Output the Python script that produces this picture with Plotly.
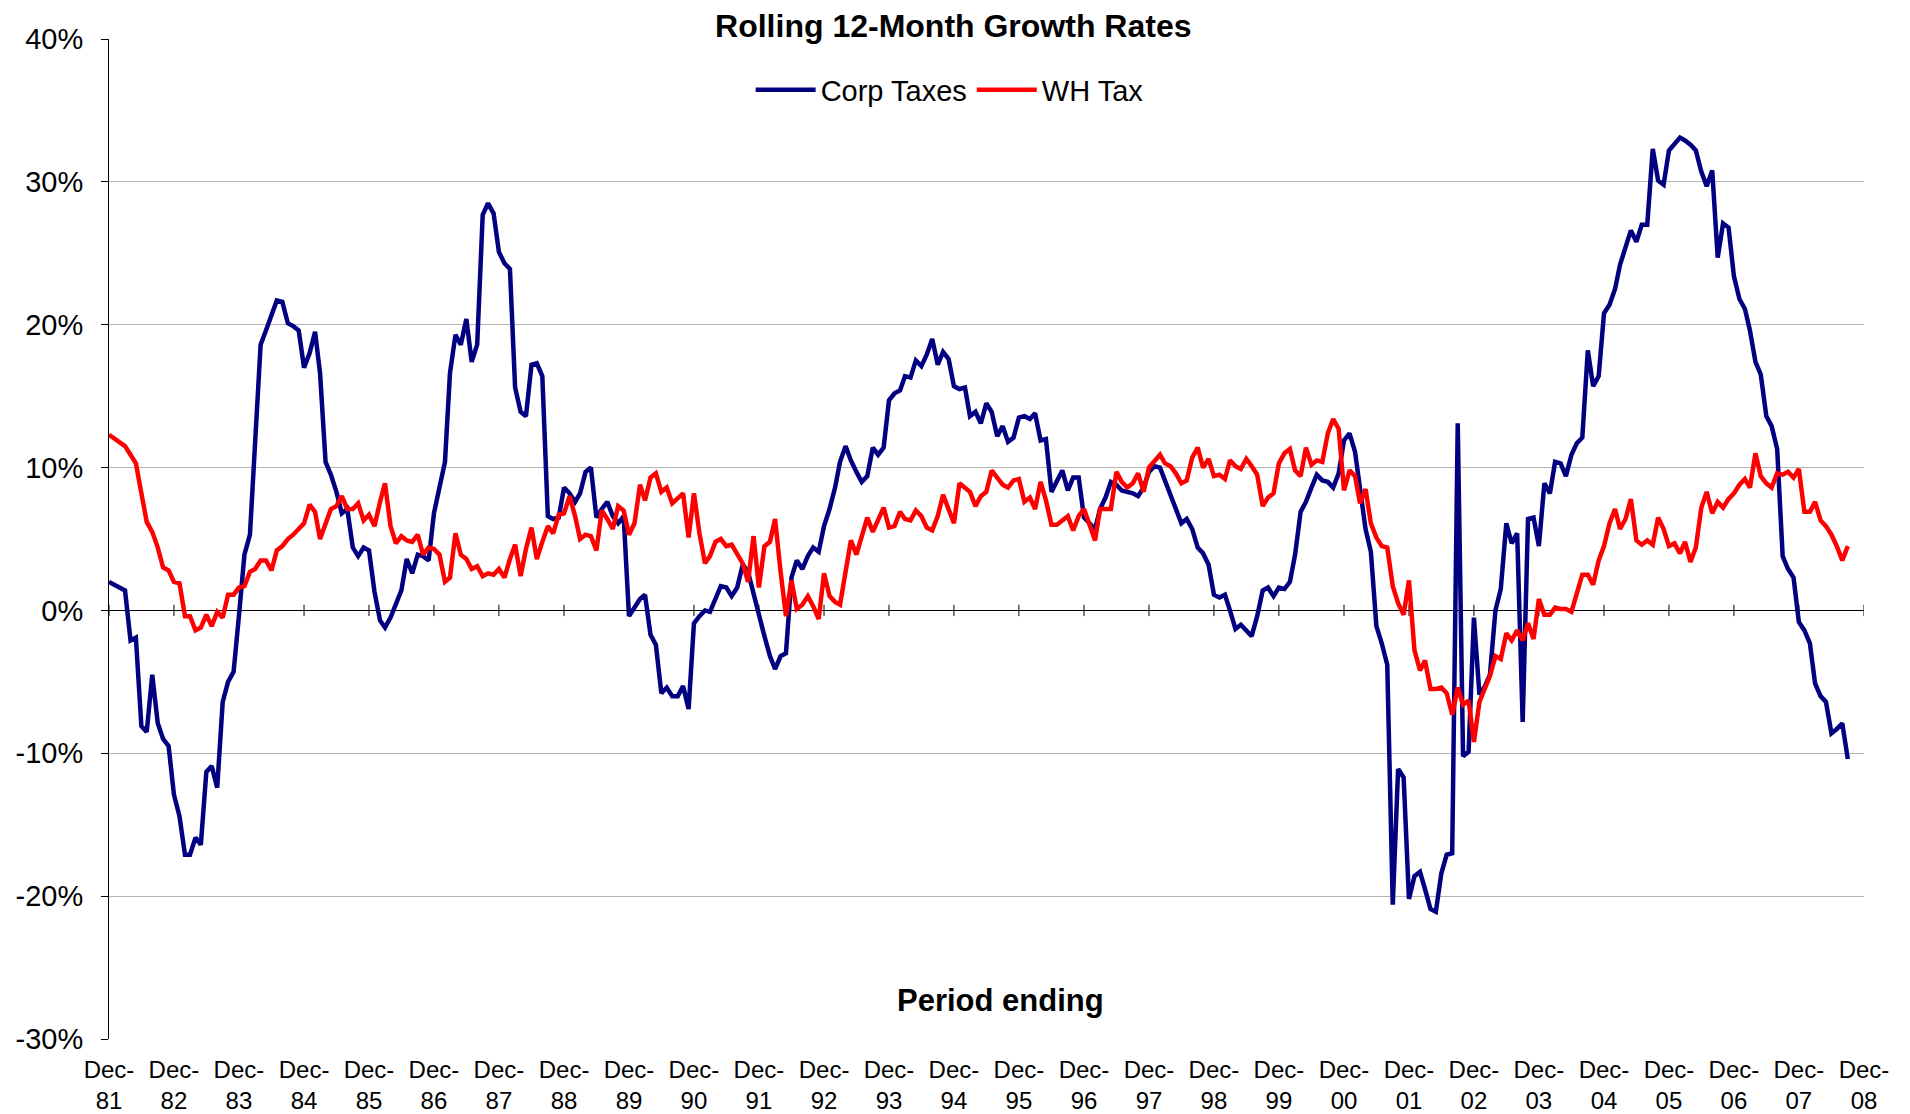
import pandas as pd
import plotly.graph_objects as go

# Monthly data, Dec-1981 .. Sep-2008 (rolling 12-month growth, %)
start_month = "1981-12-01"

corp_taxes = [
    2.0, 1.8, 1.6, 1.4, -2.1, -1.9, -8.1, -8.5, -4.5, -7.9, -9.0, -9.5,
    -12.9, -14.4, -17.1, -17.1, -15.9, -16.4, -11.3, -10.9, -12.4, -6.4, -5.0, -4.3,
    -0.4, 3.9, 5.3, 12.1, 18.6, 19.6, 20.7, 21.7, 21.6, 20.1, 19.9, 19.6,
    17.0, 18.0, 19.5, 16.6, 10.4, 9.5, 8.3, 6.8, 7.1, 4.4, 3.8, 4.4,
    4.2, 1.3, -0.7, -1.2, -0.5, 0.4, 1.4, 3.6, 2.6, 3.9, 3.8, 3.5,
    6.8, 8.6, 10.4, 16.6, 19.3, 18.6, 20.4, 17.4, 18.6, 27.7, 28.5, 27.8,
    25.1, 24.3, 23.9, 15.6, 13.9, 13.6, 17.2, 17.3, 16.4, 6.6, 6.4, 6.5,
    8.6, 8.2, 7.6, 8.2, 9.7, 10.0, 6.5, 7.1, 7.6, 6.6, 6.1, 6.6,
    -0.4, 0.2, 0.8, 1.1, -1.7, -2.4, -5.8, -5.4, -6.0, -6.0, -5.3, -6.9,
    -0.9, -0.4, 0.0, -0.1, 0.8, 1.7, 1.6, 1.0, 1.6, 3.2, 2.7, 1.1,
    -0.2, -1.8, -3.2, -4.1, -3.2, -3.0, 2.3, 3.5, 2.9, 3.8, 4.4, 4.1,
    5.9, 7.1, 8.6, 10.4, 11.5, 10.5, 9.7, 9.0, 9.4, 11.4, 10.9, 11.4,
    14.7, 15.2, 15.4, 16.4, 16.3, 17.5, 17.1, 17.9, 19.0, 17.2, 18.1, 17.6,
    15.7, 15.5, 15.6, 13.6, 13.9, 13.1, 14.5, 13.9, 12.2, 12.9, 11.8, 12.1,
    13.5, 13.6, 13.4, 13.8, 11.9, 12.0, 8.3, 9.0, 9.8, 8.4, 9.3, 9.3,
    6.5, 6.1, 5.7, 7.1, 7.9, 9.0, 8.8, 8.4, 8.3, 8.2, 8.0, 8.6,
    9.7, 10.1, 10.0, 9.1, 8.0, 7.1, 6.1, 6.4, 5.7, 4.4, 4.0, 3.2,
    1.1, 0.9, 1.1, 0.0, -1.3, -1.0, -1.4, -1.8, -0.4, 1.4, 1.6, 1.0,
    1.6, 1.5, 2.0, 3.9, 6.9, 7.6, 8.6, 9.5, 9.1, 9.0, 8.6, 9.6,
    11.9, 12.4, 11.1, 8.6, 5.7, 4.1, -1.1, -2.3, -3.8, -20.6, -11.1, -11.7,
    -20.2, -18.6, -18.3, -19.5, -20.9, -21.1, -18.4, -17.1, -17.0, 13.1, -10.2, -9.9,
    -0.5, -5.9, -5.3, -4.5, 0.0, 1.5, 6.1, 4.7, 5.4, -7.8, 6.4, 6.5,
    4.5, 8.9, 8.2, 10.4, 10.3, 9.4, 10.9, 11.7, 12.1, 18.2, 15.7, 16.4,
    20.8, 21.4, 22.5, 24.2, 25.4, 26.6, 25.8, 27.0, 27.0, 32.3, 30.1, 29.8,
    32.2, 32.7, 33.1, 32.9, 32.6, 32.2, 30.7, 29.7, 30.8, 24.7, 27.1, 26.8,
    23.4, 21.8, 21.1, 19.6, 17.4, 16.5, 13.6, 12.9, 11.3, 3.8, 2.9, 2.3,
    -0.8, -1.4, -2.3, -5.1, -6.0, -6.4, -8.6, -8.3, -7.9, -10.4,
]

wh_tax = [
    12.3, 12.0, 11.8, 11.5, 10.9, 10.3, 8.2, 6.2, 5.5, 4.4, 3.0, 2.8,
    2.0, 1.9, -0.4, -0.4, -1.4, -1.2, -0.3, -1.1, -0.1, -0.5, 1.1, 1.1,
    1.6, 1.7, 2.7, 2.9, 3.5, 3.5, 2.8, 4.2, 4.5, 5.0, 5.3, 5.7,
    6.1, 7.4, 6.9, 5.0, 6.1, 7.1, 7.3, 8.0, 7.1, 7.1, 7.5, 6.3,
    6.7, 5.9, 7.6, 8.9, 5.9, 4.7, 5.2, 4.9, 4.8, 5.3, 3.9, 4.4,
    4.3, 3.9, 2.0, 2.3, 5.4, 3.9, 3.6, 2.9, 3.1, 2.4, 2.6, 2.5,
    2.9, 2.3, 3.6, 4.6, 2.4, 4.3, 5.8, 3.6, 4.8, 5.9, 5.4, 6.7,
    6.8, 8.0, 6.6, 5.0, 5.3, 5.2, 4.2, 7.0, 6.4, 5.7, 7.3, 7.0,
    5.3, 6.1, 8.8, 7.7, 9.3, 9.6, 8.3, 8.6, 7.5, 7.9, 8.2, 5.1,
    8.2, 5.4, 3.3, 3.8, 4.8, 5.0, 4.5, 4.6, 4.0, 3.3, 2.0, 5.2,
    1.6, 4.5, 4.8, 6.4, 2.7, -0.4, 2.1, 0.1, 0.4, 1.0, 0.3, -0.6,
    2.6, 1.0, 0.6, 0.4, 2.7, 4.9, 3.9, 5.2, 6.5, 5.5, 6.4, 7.2,
    5.8, 5.9, 6.9, 6.4, 6.3, 7.0, 6.6, 5.8, 5.6, 6.6, 8.1, 7.1,
    6.1, 8.9, 8.6, 8.3, 7.3, 8.0, 8.3, 9.8, 9.3, 8.8, 8.6, 9.1,
    9.2, 7.6, 7.9, 7.1, 9.0, 7.7, 6.0, 6.0, 6.3, 6.6, 5.6, 6.6,
    7.1, 5.9, 4.9, 7.1, 7.1, 7.1, 9.7, 9.0, 8.6, 8.9, 9.6, 8.3,
    10.0, 10.4, 10.9, 10.3, 10.1, 9.6, 8.9, 9.1, 10.7, 11.4, 10.0, 10.6,
    9.4, 9.5, 9.2, 10.5, 10.1, 9.9, 10.6, 10.1, 9.5, 7.3, 7.9, 8.2,
    10.3, 11.0, 11.3, 9.8, 9.4, 11.4, 10.2, 10.5, 10.4, 12.4, 13.4, 12.7,
    8.4, 9.8, 9.4, 7.5, 8.5, 6.1, 5.1, 4.5, 4.4, 1.7, 0.5, -0.3,
    2.1, -2.8, -4.2, -3.5, -5.5, -5.5, -5.4, -5.8, -7.3, -5.4, -6.6, -6.3,
    -9.2, -6.4, -5.4, -4.6, -3.2, -3.4, -1.6, -2.1, -1.4, -2.1, -0.9, -2.0,
    0.8, -0.3, -0.3, 0.2, 0.1, 0.1, -0.1, 1.1, 2.5, 2.5, 1.8, 3.5,
    4.5, 6.1, 7.1, 5.7, 6.4, 7.8, 4.9, 4.6, 4.9, 4.6, 6.5, 5.7,
    4.5, 4.7, 4.0, 4.8, 3.4, 4.4, 7.2, 8.3, 6.8, 7.6, 7.2, 7.8,
    8.2, 8.8, 9.2, 8.6, 11.0, 9.4, 8.9, 8.6, 9.6, 9.5, 9.7, 9.3,
    9.9, 6.9, 6.9, 7.6, 6.3, 5.9, 5.3, 4.5, 3.5, 4.5,
]

tick_years = list(range(1981, 2009))
tick_labels = [f"Dec-<br>{y % 100:02d}" for y in tick_years]
y_ticks = [-30, -20, -10, 0, 10, 20, 30, 40]
y_tick_labels = [f"{v}%" for v in y_ticks]

months = pd.date_range(start_month, periods=len(corp_taxes), freq="MS")
tick_dates = [pd.Timestamp(f"{y}-12-01") for y in tick_years]

FONT = "Liberation Sans, Arial, sans-serif"

# The page adds an 8px body margin, so the figure is sized 8px smaller
FIG_W, FIG_H = 1902, 1106

fig = go.Figure()
fig.add_trace(go.Scatter(x=months, y=corp_taxes, mode="lines", name="Corp Taxes",
                         line=dict(color="#000080", width=4.5)))
fig.add_trace(go.Scatter(x=months, y=wh_tax, mode="lines", name="WH Tax",
                         line=dict(color="#FF0000", width=4.5)))

# small crossing tick marks on the zero line at each December
for d in tick_dates:
    fig.add_shape(type="line", xref="x", yref="y", x0=d, x1=d, y0=-0.4, y1=0.4,
                  line=dict(color="black", width=1), layer="below")

fig.update_layout(
    width=FIG_W, height=FIG_H,
    paper_bgcolor="white", plot_bgcolor="white",
    margin=dict(l=101, r=46, t=31, b=75, autoexpand=False),
    font=dict(family=FONT, color="black"),
    title=dict(text="<b>Rolling 12-Month Growth Rates</b>", x=0.497, xref="container",
               xanchor="center", y=0.9837, yref="container", yanchor="middle",
               font=dict(size=32, color="black", family=FONT)),
    showlegend=True,
    legend=dict(orientation="h", x=0.479, xanchor="center", y=0.949, yanchor="middle",
                font=dict(size=29, color="black"), bgcolor="rgba(0,0,0,0)",
                itemwidth=60, tracegroupgap=0),
    annotations=[dict(text="<b>Period ending</b>", xref="paper", yref="paper",
                      x=0.508, y=0.039, xanchor="center", yanchor="middle",
                      showarrow=False, font=dict(size=31, color="black", family=FONT))],
)

fig.update_xaxes(
    type="date", automargin=False,
    range=[tick_dates[0], tick_dates[-1]],
    tickmode="array", tickvals=tick_dates, ticktext=tick_labels,
    showgrid=False, showline=False, zeroline=False, ticks="",
    tickfont=dict(size=24, color="black"),
    ticklabelstandoff=14,
)
fig.update_yaxes(
    automargin=False,
    range=[-30, 40], tickmode="array", tickvals=y_ticks, ticktext=y_tick_labels,
    showgrid=True, gridcolor="#b4b4b4", gridwidth=1,
    zeroline=True, zerolinecolor="black", zerolinewidth=1,
    showline=True, linecolor="black", linewidth=1,
    ticks="outside", ticklen=7, tickcolor="black",
    tickfont=dict(size=29, color="black"),
    ticklabelstandoff=12,
)

fig.write_html("out.html")
